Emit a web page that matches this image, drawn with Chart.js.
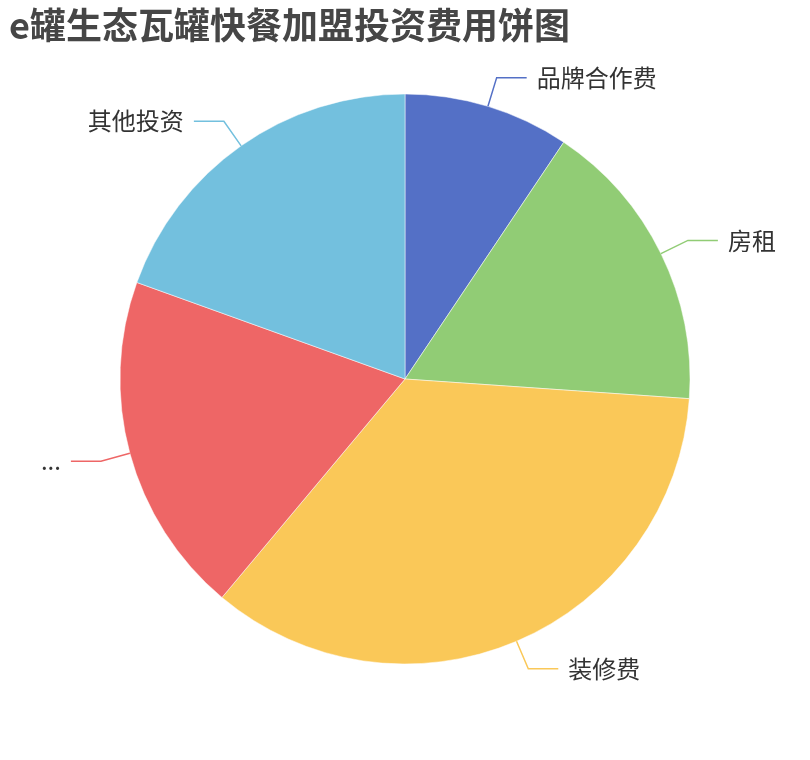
<!DOCTYPE html>
<html>
<head>
<meta charset="utf-8">
<script src="https://cdn.jsdelivr.net/npm/chart.js@4"></script>
<style>
  html, body { margin: 0; padding: 0; background: #fff; }
  #wrap { width: 810px; height: 760px; }
</style>
</head>
<body>
<div id="wrap"><canvas id="myChart" width="810" height="760"></canvas></div>
<script>
// chart data (percent of total investment)
const titleText = 'e罐生态瓦罐快餐加盟投资费用饼图';
const categories = ['品牌合作费', '房租', '装修费', '...', '其他投资'];
const values = [9.4, 16.7, 35.0, 19.4, 19.5];
const colors = ['#5470c6', '#91cc75', '#fac858', '#ee6666', '#73c0de'];

const FONT = '"Noto Sans CJK SC", "Noto Sans", sans-serif';

// title drawn at the top left
const titlePlugin = {
    id: 'topTitle',
    afterDraw(chart) {
        const ctx = chart.ctx;
        ctx.save();
        ctx.font = 'bold 36px ' + FONT;
        ctx.fillStyle = '#464646';
        ctx.textAlign = 'left';
        ctx.textBaseline = 'middle';
        ctx.fillText(titleText, 9, 25);
        ctx.restore();
    }
};

// outside labels with two-segment leader lines
const outLabels = {
    id: 'outLabels',
    afterDatasetsDraw(chart) {
        const ctx = chart.ctx;
        const meta = chart.getDatasetMeta(0);
        ctx.save();
        meta.data.forEach((arc, i) => {
            const p = arc.getProps(['x', 'y', 'startAngle', 'endAngle', 'outerRadius'], true);
            const mid = (p.startAngle + p.endAngle) / 2;
            const cos = Math.cos(mid), sin = Math.sin(mid);
            const x0 = p.x + p.outerRadius * cos, y0 = p.y + p.outerRadius * sin;
            const x1 = p.x + (p.outerRadius + 30) * cos, y1 = p.y + (p.outerRadius + 30) * sin;
            const dir = cos >= 0 ? 1 : -1;
            const x2 = x1 + dir * 30;
            ctx.strokeStyle = colors[i];
            ctx.lineWidth = 1.5;
            ctx.beginPath();
            ctx.moveTo(x0, y0);
            ctx.lineTo(x1, y1);
            ctx.lineTo(x2, y1);
            ctx.stroke();
            ctx.font = '24px ' + FONT;
            ctx.fillStyle = '#333';
            ctx.textBaseline = 'middle';
            ctx.textAlign = dir > 0 ? 'left' : 'right';
            ctx.fillText(categories[i], x2 + dir * 10, y1);
        });
        ctx.restore();
    }
};

const ctx = document.getElementById('myChart').getContext('2d');
new Chart(ctx, {
    type: 'pie',
    data: {
        labels: categories,
        datasets: [{
            data: values,
            backgroundColor: colors,
            borderColor: '#fff',
            borderWidth: 0.5
        }]
    },
    options: {
        responsive: false,
        animation: false,
        radius: 285,
        layout: {
            padding: { left: 120, right: 120, top: 94, bottom: 96 }
        },
        plugins: {
            legend: { display: false },
            tooltip: { enabled: false },
            title: { display: false }
        }
    },
    plugins: [outLabels, titlePlugin]
});
</script>
</body>
</html>
